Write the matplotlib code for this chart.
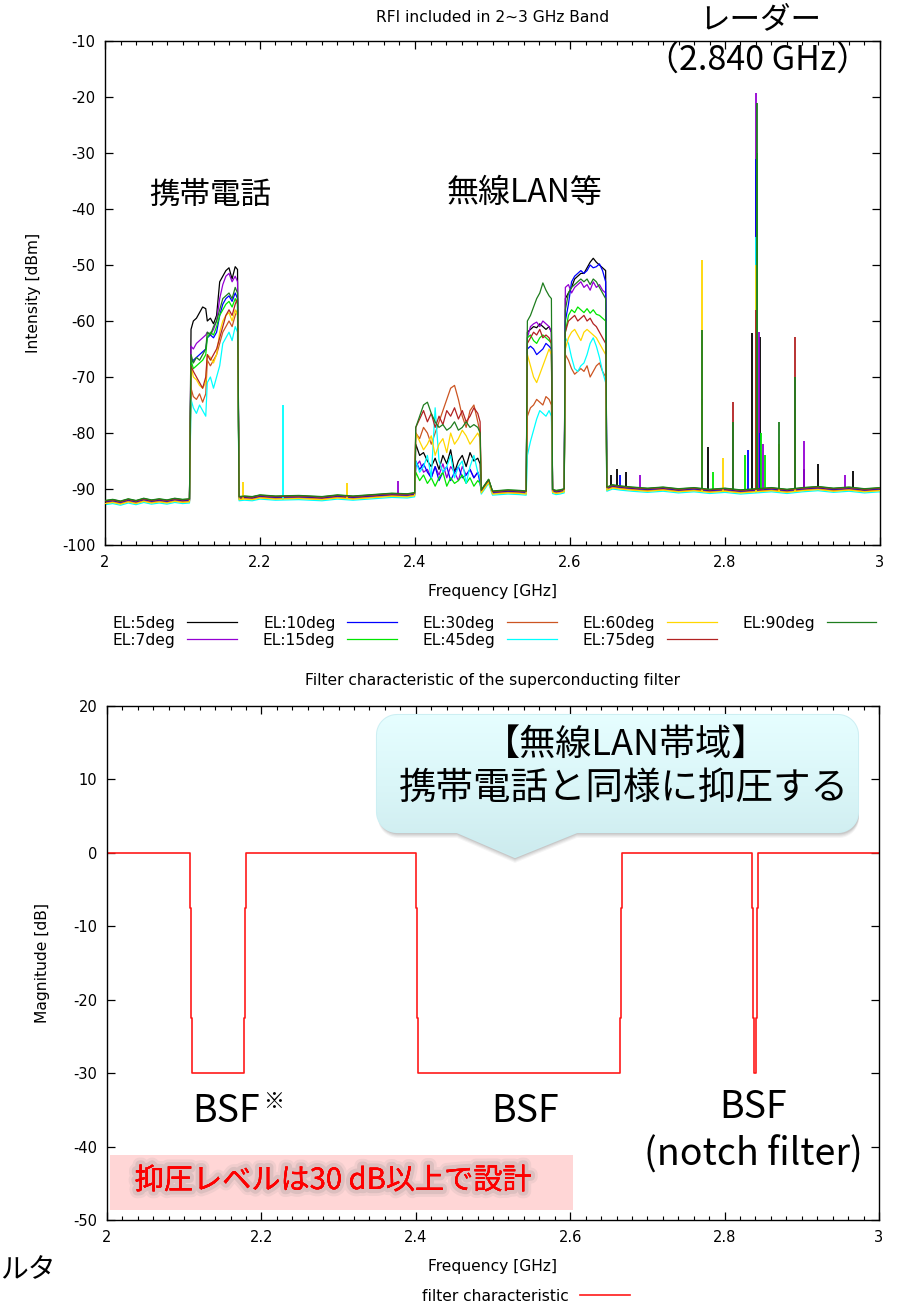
import numpy as np
import matplotlib
matplotlib.use("Agg")
import matplotlib.pyplot as plt
from matplotlib.path import Path
from matplotlib.patches import PathPatch, Rectangle
from matplotlib.colors import LinearSegmentedColormap
from matplotlib.ticker import MultipleLocator, FuncFormatter
import matplotlib.patheffects as pe

plt.rcParams['font.family'] = ['DejaVu Sans', 'Noto Sans CJK JP']
plt.rcParams['axes.unicode_minus'] = False
JP = ['Noto Sans CJK JP', 'DejaVu Sans']

# ---------------- RFI spectrum data ----------------
LABELS = ["EL:5deg", "EL:7deg", "EL:10deg", "EL:15deg", "EL:30deg",
          "EL:45deg", "EL:60deg", "EL:75deg", "EL:90deg"]
COLORS = ["#000000", "#9400d3", "#0000ff", "#00e600", "#cc5522",
          "#00ffff", "#ffd700", "#b22222", "#1e7d1e"]

# common noise floor (GHz, dBm) outside the occupied bands
FLOOR_F = [2.000, 2.010, 2.020, 2.030, 2.040, 2.050, 2.060, 2.070, 2.080, 2.090, 2.100, 2.109,
           2.173, 2.180, 2.190, 2.200, 2.220, 2.250, 2.280, 2.300, 2.320, 2.350, 2.370, 2.390, 2.3995,
           2.4855, 2.495, 2.500, 2.520, 2.535, 2.5435,
           2.5775, 2.582, 2.587, 2.5925,
           2.6475, 2.655, 2.665, 2.680, 2.700, 2.720, 2.740, 2.760, 2.780, 2.800, 2.820,
           2.840, 2.860, 2.880, 2.900, 2.920, 2.940, 2.960, 2.980, 3.000]
FLOOR_DB = [-92.3, -92.1, -92.4, -92.0, -92.3, -91.9, -92.2, -92.0, -92.2, -91.9, -92.1, -92.0,
            -91.6, -91.5, -91.6, -91.3, -91.5, -91.4, -91.6, -91.3, -91.5, -91.2, -91.0, -91.1, -90.9,
            -90.4, -88.5, -90.6, -90.4, -90.5, -90.6,
            -90.3, -90.5, -90.4, -90.2,
            -89.9, -89.5, -89.7, -89.9, -90.1, -89.9, -90.2, -90.0, -90.3, -90.1, -90.4,
            -90.2, -90.0, -90.3, -90.0, -89.8, -90.1, -89.9, -90.2, -90.0]
FLOOR_SHIFT = [0.0, 0.1, -0.1, 0.2, -0.2, -0.5, -0.3, 0.15, 0.25]

# mobile phone band
CELL_F = [2.111, 2.114, 2.118, 2.122, 2.126, 2.130, 2.132, 2.136, 2.140,
          2.144, 2.148, 2.152, 2.156, 2.160, 2.164, 2.168, 2.171]
CELL_DB = [
    [-61.5, -60, -59.5, -58.5, -57.5, -57.8, -60, -59.5, -60.5, -59, -53, -52, -51, -50.5, -52.5, -50.3, -50.8],
    [-64.5, -65, -64, -63.5, -63, -62.5, -62, -62.5, -61.5, -60, -56, -53.5, -52, -51.5, -53, -52, -53],
    [-67.5, -67, -66.5, -66, -65.5, -65, -63, -62.5, -63, -62, -59, -57, -56, -55.5, -56.5, -55, -56],
    [-67, -68.5, -68, -67.5, -67, -66, -63, -62, -62.5, -61, -59, -58, -57, -56.5, -57.5, -56, -57],
    [-72, -73.5, -74, -73, -74.5, -73, -67, -68, -67, -66, -64, -62, -61, -60, -61, -59, -58],
    [-74, -75.5, -76.5, -75, -76, -77, -71, -70, -72, -70, -68, -64, -63, -62, -63.5, -61, -62],
    [-68, -70, -70.5, -71.5, -72, -71, -66, -66.5, -67.5, -66, -62, -60, -59, -58.5, -60, -58, -59],
    [-68, -69, -70, -71, -72, -70, -66, -67, -66, -65, -63, -61, -59, -58, -59, -57, -56],
    [-66, -67.5, -66.5, -67, -66, -65, -62, -62.5, -61, -60, -58, -56, -55.5, -55, -56, -54, -55],
]

# wireless LAN band
WLAN_F = [2.401, 2.406, 2.411, 2.416, 2.421, 2.426, 2.431, 2.436, 2.441,
          2.446, 2.451, 2.456, 2.461, 2.466, 2.471, 2.476, 2.481, 2.484]
WLAN_DB = [
    [-82, -84, -83.5, -85, -86, -84.5, -86.5, -84, -85.5, -83, -87, -85, -84, -86, -83.5, -85, -84.5, -85.5],
    [-86, -85, -87, -86.5, -88, -86, -87.5, -85.5, -88, -86, -87, -88.5, -86, -87.5, -86.5, -88, -87, -88],
    [-85, -86.5, -85.5, -87, -88, -86, -88.5, -87, -86, -88.5, -87, -86, -88, -87.5, -86.5, -88, -87, -89],
    [-87, -88.5, -87.5, -89, -88, -89.5, -88, -87, -89.5, -88, -89, -88.5, -87.5, -89, -88, -89.5, -88.5, -89],
    [-80, -81, -79, -80, -82, -80, -78, -76, -74, -72, -71.5, -74, -77, -79, -76, -75, -78, -80],
    [-85, -87, -86, -84, -88, -75.5, -85, -87, -86, -84, -88, -86, -85, -89, -86, -84, -87, -88],
    [-80, -81.5, -83, -82, -80.5, -84, -82, -81, -83.5, -80, -82, -81, -79.5, -80.5, -82, -81, -80, -81],
    [-79, -77.5, -76, -78, -76.5, -79, -77, -78.5, -76, -77, -75.5, -77.5, -76, -78, -77, -75.5, -76.5, -78],
    [-79, -77, -75, -74.5, -76.5, -78, -79, -78.5, -79.5, -79, -78, -79.5, -79, -78, -79, -78.5, -79, -80],
]

# lower 2.5 GHz block
B3_F = [2.545, 2.549, 2.553, 2.557, 2.561, 2.565, 2.569, 2.573, 2.576]
B3_DB = [
    [-62, -61.5, -61, -61.2, -60.5, -61, -61.5, -61, -62],
    [-63, -61, -60.5, -60.2, -61, -60, -60.5, -61, -62],
    [-65, -64.5, -65, -66, -65.5, -65, -64, -64.5, -65],
    [-63, -62.5, -63.5, -64, -63, -62.5, -63, -63.5, -64],
    [-77, -75.5, -75, -74, -74.5, -75, -73.5, -74, -75],
    [-84, -81.5, -79.5, -77.5, -76, -76.5, -77, -76, -77],
    [-66, -68, -70, -71, -69.5, -68, -66.5, -65, -66],
    [-64, -63, -62, -62.5, -61.5, -63, -62.5, -63, -64],
    [-60, -59, -57.5, -56, -55, -53.2, -54.5, -55.5, -56],
]

# upper 2.6 GHz block
B4_F = [2.594, 2.598, 2.602, 2.606, 2.610, 2.614, 2.618, 2.622, 2.626, 2.630, 2.634, 2.638, 2.642, 2.646]
B4_DB = [
    [-56, -55, -54, -52.5, -52, -51.5, -51.5, -50.5, -49.5, -48.8, -49.5, -50, -50.5, -51],
    [-54, -53.5, -55, -54, -53.5, -53, -54, -53.5, -54.5, -53, -54, -53.5, -54.5, -55],
    [-60, -57, -53, -52, -51.5, -51, -51.5, -51, -50, -50.5, -50.3, -49.8, -51, -53],
    [-62, -59, -58, -58.5, -57.5, -58, -58.5, -57.8, -58.6, -58, -58.8, -59, -59.5, -60],
    [-66, -67, -68.5, -69.5, -69, -68.5, -69, -68, -70, -69, -68, -67.5, -69, -70],
    [-63, -64, -66.5, -68.5, -69, -68, -67.5, -66, -64, -63, -64.5, -66.5, -69, -71],
    [-65, -63, -62, -61.5, -62.5, -63.5, -62, -61.5, -62, -62.5, -63, -64, -65, -66],
    [-62, -60, -59.5, -59, -60, -59.5, -59, -60, -59.5, -60.5, -61, -62, -63, -64],
    [-58, -55, -54, -53.5, -53, -52.5, -53, -52.5, -53.5, -52.5, -53, -54, -55, -56],
]

# narrow interferers (GHz, peak dBm), radar at 2.840 GHz
SPIKES = [
    [(2.6525, -87.5), (2.660, -86.5), (2.672, -87), (2.7705, -74), (2.7776, -82.5), (2.8352, -62.2),
     (2.8405, -34), (2.8452, -62.8), (2.902, -86.5), (2.9204, -85.6), (2.965, -86.7)],
    [(2.378, -88.5), (2.690, -87.5), (2.8405, -19.3), (2.8445, -62), (2.849, -82), (2.9023, -81.4), (2.955, -87.5)],
    [(2.665, -87.5), (2.830, -83), (2.8395, -31), (2.845, -80)],
    [(2.785, -87), (2.826, -84), (2.8415, -30), (2.847, -80), (2.851, -84)],
    [(2.7705, -75), (2.8395, -53), (2.870, -86), (2.890, -80)],
    [(2.230, -75), (2.7705, -80), (2.8405, -45), (2.890, -84)],
    [(2.178, -88.8), (2.312, -89), (2.7705, -49.1), (2.798, -84.5), (2.8405, -50), (2.870, -82), (2.8905, -75.7)],
    [(2.8107, -74.5), (2.8395, -58), (2.8905, -62.8)],
    [(2.7705, -61.6), (2.8107, -78), (2.8415, -21), (2.870, -78), (2.8905, -70)],
]

# ---------------- filter response ----------------
FILTER_F = [2.000, 2.1079, 2.1079, 2.1092, 2.1092, 2.1105, 2.1105, 2.1775, 2.1775, 2.1788, 2.1788,
            2.1805, 2.1805, 2.4003, 2.4003, 2.4016, 2.4016, 2.4029, 2.4029, 2.6645, 2.6645, 2.6658,
            2.6658, 2.6671, 2.6671, 2.8359, 2.8359, 2.8372, 2.8372, 2.8385, 2.8385, 2.8407, 2.8407,
            2.8420, 2.8420, 2.8433, 2.8433, 3.000]
FILTER_DB = [0, 0, -7.5, -7.5, -22.5, -22.5, -30, -30, -22.5, -22.5, -7.5,
             -7.5, 0, 0, -7.5, -7.5, -22.5, -22.5, -30, -30, -22.5, -22.5,
             -7.5, -7.5, 0, 0, -7.5, -7.5, -22.5, -22.5, -30, -30, -22.5,
             -22.5, -7.5, -7.5, 0, 0]

W, H = 904, 1302
SMALL = 11.2
fig = plt.figure(figsize=(W / 100, H / 100), dpi=100)


def fbox(x0, y0, x1, y1):
    return [x0 / W, 1 - y1 / H, (x1 - x0) / W, (y1 - y0) / H]


def style_axes(ax):
    ax.tick_params(which='both', direction='in', top=True, right=True, labelsize=10.5, pad=7)
    ax.tick_params(which='major', length=6, width=0.9)
    ax.tick_params(which='minor', length=3, width=0.8)
    ax.xaxis.set_major_locator(MultipleLocator(0.2))
    ax.xaxis.set_minor_locator(MultipleLocator(0.02))
    ax.xaxis.set_major_formatter(FuncFormatter(lambda v, p: f"{v:g}"))
    for s in ax.spines.values():
        s.set_linewidth(1.0)


# ---------------- top panel: spectrum ----------------
ax1 = fig.add_axes(fbox(105, 41, 880, 545))
bands = [(CELL_F, CELL_DB), (WLAN_F, WLAN_DB), (B3_F, B3_DB), (B4_F, B4_DB)]
floor_f = np.array(FLOOR_F)
for i, (lab, col) in enumerate(zip(LABELS, COLORS)):
    fl = np.array(FLOOR_DB) + FLOOR_SHIFT[i]
    keep = np.ones(len(floor_f), bool)
    for bf, _ in bands:
        keep &= ~((floor_f >= bf[0]) & (floor_f <= bf[-1]))
    f_all = list(floor_f[keep])
    v_all = list(fl[keep])
    for bf, bv in bands:
        f_all += list(bf)
        v_all += list(bv[i])
    order = np.argsort(f_all, kind='stable')
    f_all = np.array(f_all)[order]
    v_all = np.array(v_all)[order]
    ax1.plot(f_all, v_all, color=col, lw=0.9, label=lab, zorder=2 + i * 0.1)
    for sf, sv in SPIKES[i]:
        base = fl[np.argmin(np.abs(floor_f - sf))]
        ax1.vlines(sf, base, sv, color=col, lw=1.3, zorder=2 + i * 0.1)

ax1.set_xlim(2, 3)
ax1.set_ylim(-100, -10)
ax1.yaxis.set_major_locator(MultipleLocator(10))
style_axes(ax1)
ax1.set_xlabel("Frequency [GHz]", fontsize=SMALL, labelpad=10)
ax1.set_ylabel("Intensity [dBm]", fontsize=SMALL, labelpad=15)
ax1.set_title("RFI included in 2~3 GHz Band", fontsize=SMALL, pad=14)

ax1.legend(loc='upper left', bbox_to_anchor=(105 / W, 1 - 608 / H), bbox_transform=fig.transFigure,
           ncol=5, frameon=False, markerfirst=False, fontsize=SMALL, handlelength=3.2,
           handletextpad=0.75, columnspacing=1.65, labelspacing=0.12, borderpad=0)

fig.text(210 / W, 1 - 195 / H, "携帯電話", family=JP, fontsize=22, ha='center', va='center')
fig.text(525 / W, 1 - 193 / H, "無線LAN等", family=JP, fontsize=23, ha='center', va='center')
fig.text(760 / W, 1 - 20 / H, "レーダー", family=JP, fontsize=22, ha='center', va='center')
fig.text(758 / W, 1 - 60 / H, "（2.840 GHz）", family=JP, fontsize=24.5, ha='center', va='center')

# ---------------- bottom panel: filter ----------------
ax2 = fig.add_axes(fbox(107, 706, 879, 1220))
ax2.plot(FILTER_F, FILTER_DB, color='#ff1a1a', lw=1.2, label="filter characteristic")
ax2.set_xlim(2, 3)
ax2.set_ylim(-50, 20)
ax2.yaxis.set_major_locator(MultipleLocator(10))
style_axes(ax2)
ax2.set_xlabel("Frequency [GHz]", fontsize=SMALL, labelpad=10)
ax2.set_ylabel("Magnitude [dB]", fontsize=SMALL, labelpad=17)
ax2.set_title("Filter characteristic of the superconducting filter", fontsize=SMALL, pad=15)
ax2.legend(loc='upper left', bbox_to_anchor=(414 / W, 1 - 1281 / H), bbox_transform=fig.transFigure,
           frameon=False, markerfirst=False, fontsize=SMALL, handlelength=3.2, handletextpad=0.75,
           borderpad=0)

fig.text(226 / W, 1 - 1112 / H, "BSF", family=JP, fontsize=27, ha='center', va='center')
fig.text(274 / W, 1 - 1102 / H, "※", family=JP, fontsize=15, ha='center', va='center')
fig.text(525 / W, 1 - 1112 / H, "BSF", family=JP, fontsize=27, ha='center', va='center')
fig.text(753 / W, 1 - 1108 / H, "BSF", family=JP, fontsize=27, ha='center', va='center')
fig.text(753 / W, 1 - 1155 / H, "(notch filter)", family=JP, fontsize=27, ha='center', va='center')

fig.text(0, 1 - 1270 / H, "ルタ", family=JP, fontsize=20, ha='left', va='center')

# ---------------- overlay: callout and note box ----------------
ov = fig.add_axes([0, 0, 1, 1], zorder=10)
ov.set_xlim(0, W)
ov.set_ylim(H, 0)
ov.axis('off')


def bubble_path(x0, y0, x1, y1, r, px0, px1, tx, ty):
    pts = []
    def arc(cx, cy, a0, a1):
        t = np.linspace(np.radians(a0), np.radians(a1), 12)
        return [(cx + r * np.cos(a), cy + r * np.sin(a)) for a in t]
    pts += arc(x0 + r, y0 + r, 180, 270)
    pts += arc(x1 - r, y0 + r, 270, 360)
    pts += arc(x1 - r, y1 - r, 0, 90)
    pts += [(px1, y1), (tx, ty), (px0, y1)]
    pts += arc(x0 + r, y1 - r, 90, 180)
    pts.append(pts[0])
    codes = [Path.MOVETO] + [Path.LINETO] * (len(pts) - 2) + [Path.CLOSEPOLY]
    return Path(pts, codes)


for k, a in enumerate([0.04, 0.05, 0.06, 0.08]):
    d = 6 - k * 1.2
    sp = bubble_path(377 + 1, 715 + d, 858 + 1, 832 + d, 20, 457, 577, 515, 857 + d)
    ov.add_patch(PathPatch(sp, facecolor='k', edgecolor='none', alpha=a))

bp = bubble_path(377, 715, 858, 832, 20, 457, 577, 515, 857)
patch = PathPatch(bp, facecolor='none', edgecolor='#cdeff3', lw=1.5)
ov.add_patch(patch)
cmap = LinearSegmentedColormap.from_list('bub', ['#e6feff', '#daf6f8', '#cdebee'])
grad = np.linspace(0, 1, 200).reshape(-1, 1)
im = ov.imshow(grad, cmap=cmap, extent=[377, 858, 857, 715], origin='upper', aspect='auto',
               interpolation='bicubic', zorder=1)
im.set_clip_path(patch)
ov.set_xlim(0, W)
ov.set_ylim(H, 0)
ov.text(626, 745, "【無線LAN帯域】", family=JP, fontsize=26, ha='center', va='center', zorder=3)
ov.text(624, 788, "携帯電話と同様に抑圧する", family=JP, fontsize=27, ha='center', va='center', zorder=3)

ov.add_patch(Rectangle((110, 1155), 463, 55, facecolor='#ffd6d6', edgecolor='none', zorder=0.5))
ov.text(333, 1181, "抑圧レベルは30 dB以上で設計", family=JP, fontsize=21, color='#ff0000',
        ha='center', va='center', zorder=3,
        path_effects=[pe.withStroke(linewidth=10, foreground=(0.55, 0.55, 0.55, 0.12)),
                      pe.withStroke(linewidth=6, foreground=(0.5, 0.5, 0.5, 0.18)),
                      pe.Normal()])

fig.savefig("out.png", dpi=100)
